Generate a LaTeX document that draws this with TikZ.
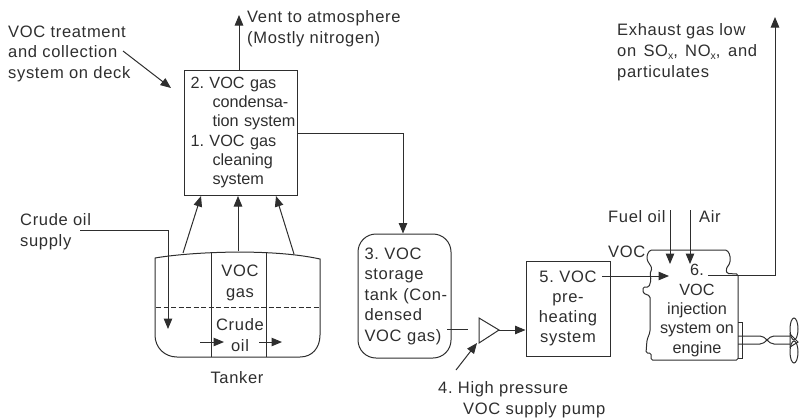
\documentclass[tikz,border=0pt]{standalone}
\usepackage{fontspec}
\setmainfont{Liberation Sans}
\newfontfamily\trk[LetterSpace=4]{Liberation Sans}
\usetikzlibrary{arrows.meta,calc}
\definecolor{ink}{HTML}{2E2E2E}
\frenchspacing
\tikzset{
  every node/.style={text=ink},
  ln/.style={draw=ink,line width=1bp},
  arr/.style={ln,-{Triangle[length=10.5bp,width=8.5bp]}},
  lbl/.style={font=\trk\fontsize{16.6}{20.8}\selectfont,inner sep=0pt,align=left,anchor=base west},
  lblc/.style={font=\trk\fontsize{16.6}{20.4}\selectfont,inner sep=0pt,align=center,anchor=base},
  boxed/.style={ln,font=\fontsize{16.3}{19.4}\selectfont,inner sep=0pt,align=left},
}
\newcommand{\subx}{\raisebox{-3bp}{\fontsize{10.5}{10.5}\selectfont x}}
\begin{document}
\begin{tikzpicture}[x=1bp,y=-1bp]
\useasboundingbox (0,0) rectangle (801,417);
% --- free ends
\coordinate (ventEnd) at (239,15);
\coordinate (deckFrom) at (123,51);
\coordinate (deckTo) at (171,88);
\coordinate (t1) at (183,253);
\coordinate (t2) at (238,251);
\coordinate (t3) at (294,254);
\coordinate (b1) at (201,196);
\coordinate (b2) at (238,196);
\coordinate (b3) at (276,196);
\coordinate (crudeFrom) at (80,230);
\coordinate (crudeBend) at (168,230);
\coordinate (crudeEnd) at (168,329);
\coordinate (oilA1) at (200,342);
\coordinate (oilA2) at (224,342);
\coordinate (oilB1) at (259,342);
\coordinate (oilB2) at (282,342);
% --- boxes
\node[boxed,minimum width=113bp,minimum height=125bp,text width=100bp] (cond) at (240.5,132.5)
 {2. VOC gas\\\mbox{\hspace*{22bp}condensa-}\\\mbox{\hspace*{22bp}tion system}\\1. VOC gas\\\mbox{\hspace*{22bp}cleaning}\\\mbox{\hspace*{22bp}system}};
\node[boxed,rounded corners=18bp,minimum width=93bp,minimum height=124bp,text width=80bp,font=\trk\fontsize{16.6}{20.6}\selectfont] (store) at (404.5,296)
 {3. VOC\\storage\\\mbox{tank (Con-}\\densed\\\mbox{VOC gas)}};
\node[boxed,minimum width=84bp,minimum height=95bp,align=center,text width=84bp,font=\trk\fontsize{16.6}{20.3}\selectfont] (pre) at (568,308.5)
 {5. VOC\\pre-\\heating\\system};
% --- labels
\node[lbl] (deckL) at (8,78.5) {VOC treatment\\and collection\\system on deck};
\node[lbl] (ventL) at (247,43) {Vent to atmosphere\\(Mostly nitrogen)};
\node[lbl] (crudeL) at (20,246) {Crude oil\\supply};
\node[lblc] (gasL) at (240,297) {VOC\\gas};
\node[lblc] (oilL) at (240,351) {Crude\\oil};
\node[lblc] (tankL) at (237,383) {Tanker};
\node[lbl] (pumpL) at (438,414) {4. High pressure\\\hspace*{25bp}VOC supply pump};
\node[lbl] (fuelL) at (608,222) {Fuel oil};
\node[lbl] (airL) at (699,222) {Air};
\node[lbl] (vocL) at (608,257) {VOC};
\node[lblc,font=\fontsize{16.3}{19.4}\selectfont] (engL) at (697,353) {6.\\VOC\\injection\\system on\\engine};
\node[lbl] (exhL) at (617,77) {Exhaust gas low\\on\hspace{2bp} SO\subx,\hspace{2bp} NO\subx,\hspace{2.5bp} and\\particulates};
% --- tanker hull
\draw[ln] (155,258) .. controls (190,252) and (270,248) .. (320,259)
  -- (320,335) .. controls (320,348) and (312,357) .. (300,357)
  -- (177,357) .. controls (165,357) and (155,348) .. (155,335) -- cycle;
\draw[ln] (211,253) -- (211,357);
\draw[ln] (266,253) -- (266,357);
\draw[ln,dashed,dash pattern=on 5bp off 2.5bp] (156,307) -- (320,307);
% --- tanker connectors
\draw[arr] (t1) -- (b1);
\draw[arr] (t2) -- (b2);
\draw[arr] (t3) -- (b3);
\draw[arr] (crudeFrom) -- (crudeBend) -- (crudeEnd);
\draw[arr] (oilA1) -- (oilA2);
\draw[arr] (oilB1) -- (oilB2);
% --- upper connectors
\draw[arr] (cond.north -| ventEnd) -- (ventEnd);
\draw[arr] (deckFrom) -- (deckTo);
\coordinate (condOut) at (297,133);
\coordinate (condBend) at (403,133);
\draw[arr] (condOut) -- (condBend) -- (store.north -| condBend);
% --- pump
\coordinate (pumpIn) at (447,329);
\coordinate (pumpTail) at (468,329);
\draw[ln] (pumpIn) -- (pumpTail);
\draw[ln] (479,318) -- (499,330) -- (479,343) -- cycle;
\coordinate (pumpOut) at (499,330);
\draw[arr] (pumpOut) -- (pre.west |- pumpOut);
\coordinate (pF) at (456,370);
\coordinate (pT) at (477,343);
\draw[arr] (pF) -- (pT);
% --- engine
\draw[ln,rounded corners=1.5bp] (650,250) -- (727,250) -- (730,255) -- (730,263) -- (726,269) -- (727,273.5) -- (738,274)
 -- (738,360) -- (651,360) -- (651,353) -- (646,353) -- (647,340) -- (650,332) -- (650,296)
 -- (643,293) -- (643,287) -- (649,287) -- (651,280) -- (650,274) -- (652,268) -- (647,260) -- (647,255) -- cycle;
\coordinate (fuelA) at (670,210); \coordinate (fuelB) at (670,264);
\coordinate (airA) at (690,210); \coordinate (airB) at (690,264);
\draw[arr] (fuelA) -- (fuelB);
\draw[arr] (airA) -- (airB);
\coordinate (injA) at (602,276); \coordinate (injB) at (669,276);
\draw[arr] (injA) -- (injB);
\coordinate (exA) at (708,275.5); \coordinate (exB) at (775,275.5); \coordinate (exC) at (775,17);
\draw[arr] (exA) -- (exB) -- (exC);
% --- shaft and propeller
\draw[ln] (738,322) -- (742,322) -- (742,358) -- (738,358);
\draw[ln] (738,336) -- (760,336) .. controls (766,336) and (768,344) .. (774,344) -- (790,344);
\draw[ln] (738,344) -- (760,344) .. controls (766,344) and (768,336) .. (774,336) -- (790,336);
\draw[ln] (794,329) ellipse [x radius=4bp,y radius=11bp];
\draw[ln] (794,352) ellipse [x radius=4bp,y radius=11bp];
\draw[ln] (790,334) -- (798,342) -- (790,347) -- cycle;
\end{tikzpicture}
\end{document}
